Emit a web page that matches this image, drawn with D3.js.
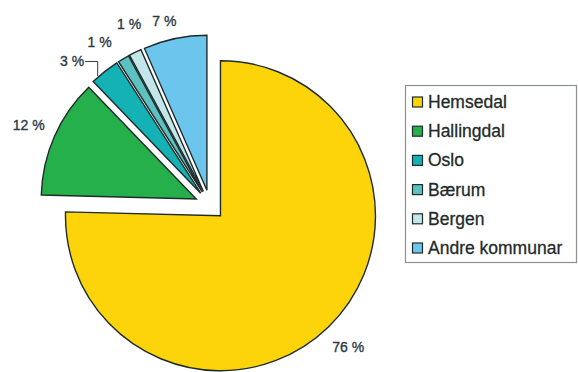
<!DOCTYPE html>
<html>
<head>
<meta charset="utf-8">
<script src="https://cdn.jsdelivr.net/npm/d3@7"></script>
<style>
html,body{margin:0;padding:0;background:#fff;}
svg{display:block;}
</style>
</head>
<body>
<svg id="chart" width="578" height="372"></svg>
<script>
// ---- data ----
const categories = ["Hemsedal", "Hallingdal", "Oslo", "Bærum", "Bergen", "Andre kommunar"];
const shares = [75.4, 12.4, 3.1, 1.2, 1.3, 6.6];
const labels = ["76 %", "12 %", "3 %", "1 %", "1 %", "7 %"];
const colors = ["#fdd40a", "#25b04b", "#14b2b4", "#5bc1c1", "#c3e6ea", "#6cc5ec"];

// ---- layout ----
const W = 578, H = 372;
const cx = 210, cy = 205, R = 155, explode = 15;
const labelShiftDeg = [0, 0, -5.5, -3.5, 2, -2];
const labelRadius = [198, 198, 199, 197, 198, 190];
const textColor = "#2c3a47";
const strokeColor = "#1f2b2b";

const svg = d3.select("#chart");

const pie = d3.pie().sort(null).value(d => d.v);
const arcs = pie(categories.map((c, i) => ({c, v: shares[i], i})));
const arc = d3.arc().innerRadius(0).outerRadius(R);

const g = svg.append("g").attr("transform", `translate(${cx},${cy})`);

const mid = d => (d.startAngle + d.endAngle) / 2;

g.selectAll("path.slice").data(arcs).enter().append("path")
  .attr("class", "slice")
  .attr("transform", d => `translate(${explode * Math.sin(mid(d))},${-explode * Math.cos(mid(d))})`)
  .attr("d", arc)
  .attr("fill", (d, i) => colors[i])
  .attr("stroke", strokeColor)
  .attr("stroke-width", 1.4)
  .attr("stroke-linejoin", "miter");

// labels
const labelPos = (d, i) => {
  const a = mid(d) + labelShiftDeg[i] * Math.PI / 180;
  return [labelRadius[i] * Math.sin(a), -labelRadius[i] * Math.cos(a)];
};

g.selectAll("text.lbl").data(arcs).enter().append("text")
  .attr("class", "lbl")
  .attr("x", (d, i) => labelPos(d, i)[0])
  .attr("y", (d, i) => labelPos(d, i)[1])
  .attr("text-anchor", "middle")
  .attr("dominant-baseline", "central")
  .attr("font-family", "Liberation Sans, Arial, sans-serif")
  .attr("font-size", 14)
  .attr("fill", textColor)
  .attr("stroke", textColor)
  .attr("stroke-width", 0.35)
  .text((d, i) => labels[i]);

// leader line for Oslo label
(function() {
  const i = 2, d = arcs[i];
  const [lx, ly] = labelPos(d, i);
  const a = d.startAngle + 2.6 * Math.PI / 180;
  const m = mid(d);
  const ox = explode * Math.sin(m), oy = -explode * Math.cos(m);
  const px = ox + (R + 1) * Math.sin(a);
  const py = oy - (R + 1) * Math.cos(a);
  g.append("path")
    .attr("d", `M${lx + 13},${ly}H${px}V${py}`)
    .attr("fill", "none")
    .attr("stroke", textColor)
    .attr("stroke-width", 1);
})();

// legend
const lg = svg.append("g");
lg.append("rect")
  .attr("x", 405.5).attr("y", 85.5)
  .attr("width", 171).attr("height", 177)
  .attr("fill", "#fff")
  .attr("stroke", "#8c9090")
  .attr("stroke-width", 1.2);

const rowY = d3.scalePoint().domain(categories).range([102, 248]);
const items = lg.selectAll("g.item").data(categories).enter().append("g")
  .attr("class", "item")
  .attr("transform", d => `translate(0,${rowY(d)})`);
items.append("rect")
  .attr("x", 412.5).attr("y", -5)
  .attr("width", 10).attr("height", 10)
  .attr("fill", (d, i) => colors[i])
  .attr("stroke", strokeColor)
  .attr("stroke-width", 1.2);
items.append("text")
  .attr("x", 428).attr("y", 0)
  .attr("dominant-baseline", "central")
  .attr("font-family", "Liberation Sans, Arial, sans-serif")
  .attr("font-size", 17.5)
  .attr("fill", "#1f2b2b")
  .attr("stroke", "#1f2b2b")
  .attr("stroke-width", 0.3)
  .text(d => d);
</script>
</body>
</html>
